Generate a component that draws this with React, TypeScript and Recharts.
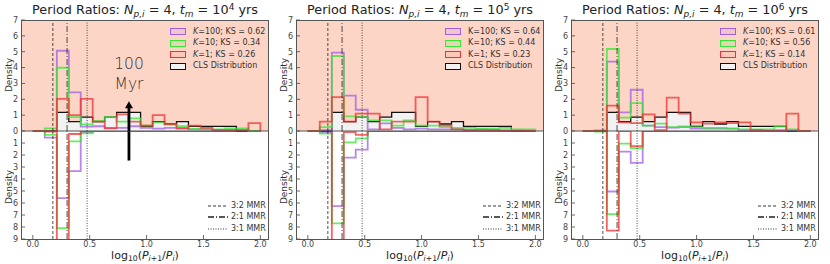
import React from 'react';
import {
  ComposedChart,
  Line,
  Area,
  XAxis,
  YAxis,
  CartesianGrid,
  ReferenceLine,
  ReferenceDot,
} from 'recharts';

// histogram bin edges in log10(P_{i+1}/P_i)
const binEdges = [
  0, 0.105, 0.211, 0.316, 0.421, 0.526, 0.632, 0.737, 0.842, 0.947, 1.053, 1.158, 1.263, 1.368,
  1.474, 1.579, 1.684, 1.789, 1.895, 2.0,
];

// observed CLS distribution (same in every panel)
const clsDensity = [0, 0, 1.18, 0.59, 0.88, 0.59, 0.88, 1.18, 1.18, 0.29, 0.59, 0.44, 0.59, 0.29, 0.29, 0.29, 0.29, 0, 0];

// t_m = 1e4 yrs
const p1K100Top = [0, 0, 5.06, 2.44, 0.27, 0.3, 0.2, 0.2, 0.3, 0.2, 0.15, 0.2, 0.2, 0.1, 0.1, 0.05, 0.05, 0.05, 0];
const p1K10Top = [0, 0.17, 3.99, 0.88, 0.42, 0.63, 0.88, 0.59, 0.8, 0.34, 0.55, 0.42, 0.3, 0.13, 0.1, 0.1, 0.17, 0.17, 0];
const p1K1Top = [0, 0, 2.02, 1.0, 2.02, 0.59, 0.17, 1.05, 0.59, 0.34, 1.0, 0.42, 0.15, 0.34, 0.2, 0.05, 0.05, 0.05, 0.5];
const p1K100Bottom = [0, 0.55, 5.6, 3.35, 0.1, 0, 0, 0, 0, 0, 0, 0, 0, 0, 0, 0, 0, 0, 0];
const p1K10Bottom = [0, 0.33, 8.1, 0.86, 0.2, 0, 0, 0, 0, 0, 0, 0, 0, 0, 0, 0, 0, 0, 0];
const p1K1Bottom = [0, 0.05, 9.6, 0.25, 0, 0, 0, 0, 0, 0, 0, 0, 0, 0, 0, 0, 0, 0, 0];

// t_m = 1e5 yrs
const p2K100Top = [0, 0.05, 4.94, 2.23, 1.34, 0.1, 0.48, 0.2, 0.1, 0.15, 0.1, 0.1, 0.1, 0.05, 0.1, 0.05, 0.05, 0.05, 0];
const p2K10Top = [0, 0.25, 4.73, 0.92, 0.88, 0.67, 0.67, 0.34, 0.67, 0.34, 0.34, 0.25, 0.2, 0.2, 0.15, 0.15, 0.2, 0.1, 0.1];
const p2K1Top = [0, 0.59, 2.14, 0.59, 1.09, 1.09, 0.1, 0.59, 0.59, 2.14, 0.59, 0.34, 0.1, 0.05, 0.05, 0.05, 0, 0, 0];
const p2K100Bottom = [0, 0.1, 6.26, 2.22, 1.55, 0, 0, 0, 0, 0, 0, 0, 0, 0, 0, 0, 0, 0, 0];
const p2K10Bottom = [0, 0.22, 7.7, 0.94, 0.61, 0, 0, 0, 0, 0, 0, 0, 0, 0, 0, 0, 0, 0, 0];
const p2K1Bottom = [0, 0, 9.6, 0.1, 0.33, 0, 0, 0, 0, 0, 0, 0, 0, 0, 0, 0, 0, 0, 0];

// t_m = 1e6 yrs
const p3K100Top = [0, 0, 4.37, 1.18, 2.6, 0.34, 0.25, 0.21, 0.25, 0.15, 0.15, 0.15, 0.15, 0.05, 0.05, 0.05, 0.05, 0.05, 0];
const p3K10Top = [0, 0.05, 5.17, 0.84, 1.76, 0.34, 0.46, 0.25, 0.29, 0.25, 0.2, 0.2, 0.15, 0.1, 0.1, 0.1, 0.29, 0.1, 0];
const p3K1Top = [0, 0, 1.6, 0.55, 0.5, 1.05, 0.05, 2.1, 1.09, 0.55, 0.46, 0.55, 0.5, 0.55, 0.05, 0, 0, 1.09, 0];
const p3K100Bottom = [0, 0, 5.04, 1.72, 2.66, 0, 0, 0, 0, 0, 0, 0, 0, 0, 0, 0, 0, 0, 0];
const p3K10Bottom = [0, 0.05, 6.93, 1.05, 1.44, 0, 0, 0, 0, 0, 0, 0, 0, 0, 0, 0, 0, 0, 0];
const p3K1Bottom = [0, 0, 8.3, 0, 1.27, 0, 0, 0, 0, 0, 0, 0, 0, 0, 0, 0, 0, 0, 0];

const timeExponents = ['4', '5', '6'];
const ksK100 = ['0.62', '0.64', '0.61'];
const ksK10 = ['0.34', '0.44', '0.56'];
const ksK1 = ['0.26', '0.23', '0.14'];
const mmrRatios = [0.176, 0.301, 0.477];
const mmrLabels = ['3:2 MMR', '2:1 MMR', '3:1 MMR'];
const upperTicks = [0, 1, 2, 3, 4, 5, 6, 7];
const lowerTicks = [1, 2, 3, 4, 5, 6, 7, 8, 9];
const xTicks = [0, 0.5, 1.0, 1.5, 2.0];

const FONT = '"DejaVu Sans", sans-serif';
const PURPLE = '#a05ee6';
const GREEN = '#33e833';
const RED = '#f23030';
const SALMON = '#fdd5c6';
const X_DOMAIN: [number, number] = [-0.104, 2.076];
const MMR_DASH = ['3 2', '6 2 1 2', '1 1.5'];
const PANEL_LEFT = [21, 296, 571];
const PLOT_W = 248;
const AXIS_W = 22;

const panels = [
  { top: [p1K100Top, p1K10Top, p1K1Top], bottom: [p1K100Bottom, p1K10Bottom, p1K1Bottom] },
  { top: [p2K100Top, p2K10Top, p2K1Top], bottom: [p2K100Bottom, p2K10Bottom, p2K1Bottom] },
  { top: [p3K100Top, p3K10Top, p3K1Top], bottom: [p3K100Bottom, p3K10Bottom, p3K1Bottom] },
];

function buildRows(k100: number[], k10: number[], k1: number[], cls?: number[]) {
  const rows: any[] = [{ x: binEdges[0], k100: 0, k10: 0, k1: 0, cls: 0 }];
  binEdges.forEach((edge, i) => {
    const last = i === binEdges.length - 1;
    rows.push({
      x: edge,
      k100: last ? 0 : k100[i],
      k10: last ? 0 : k10[i],
      k1: last ? 0 : k1[i],
      cls: cls ? (last ? 0 : cls[i]) : 0,
    });
  });
  return rows;
}

const YTick = (props: any) => {
  const { x, y, payload } = props;
  return (
    <g>
      <line x1={x + 3} x2={x + 7} y1={y} y2={y} stroke="#444" strokeWidth={0.8} />
      <text x={x} y={y} dy="0.35em" textAnchor="end" fontSize={8} fill="#444" fontFamily={FONT}>
        {payload.value}
      </text>
    </g>
  );
};

const XTick = (props: any) => {
  const { x, y, payload } = props;
  return (
    <g>
      <line x1={x} x2={x} y1={y - 2} y2={y - 6} stroke="#444" strokeWidth={0.8} />
      <text x={x} y={y} dy="0.75em" textAnchor="middle" fontSize={8} fill="#444" fontFamily={FONT}>
        {payload.value.toFixed(1)}
      </text>
    </g>
  );
};

const lineProps = { type: 'stepAfter' as const, strokeWidth: 1.8, strokeOpacity: 0.75, dot: false, isAnimationActive: false };

function MmrLines() {
  return (
    <>
      {mmrRatios.map((r, i) => (
        <ReferenceLine key={r} x={r} stroke="#222" strokeWidth={0.8} strokeDasharray={MMR_DASH[i]} />
      ))}
    </>
  );
}

function UpperChart({ index }: { index: number }) {
  const [a, b, c] = panels[index].top;
  const data = buildRows(a, b, c, clsDensity);
  return (
    <ComposedChart width={AXIS_W + PLOT_W} height={137} data={data} margin={{ top: 20, right: 0, bottom: 6, left: 0 }}>
      <CartesianGrid fill={SALMON} fillOpacity={1} horizontal={false} vertical={false} stroke="none" />
      <XAxis type="number" dataKey="x" domain={X_DOMAIN} allowDataOverflow hide />
      <YAxis
        type="number"
        domain={[0, 7]}
        ticks={upperTicks}
        interval={0}
        width={AXIS_W}
        tickSize={0}
        tickMargin={3}
        axisLine={false}
        tickLine={false}
        tick={YTick}
      />
      <Area type="stepAfter" dataKey="cls" stroke="#111" strokeWidth={1.3} fill="#f2f2f2" fillOpacity={1} dot={false} isAnimationActive={false} />
      <Line dataKey="k100" stroke={PURPLE} {...lineProps} />
      <Line dataKey="k10" stroke={GREEN} {...lineProps} />
      <Line dataKey="k1" stroke={RED} {...lineProps} />
      <ReferenceLine y={0} stroke="#555" strokeWidth={1} />
      {MmrLines()}
      {index === 0 && (
        <ReferenceLine segment={[{ x: 0.845, y: 0 }, { x: 0.845, y: 1.5 }]} stroke="#000" strokeWidth={2.8} />
      )}
      {index === 0 && (
        <ReferenceDot
          x={0.845}
          y={1.87}
          shape={(p: any) => (
            <path d={`M${p.cx},${p.cy} L${p.cx - 4},${p.cy + 7} L${p.cx + 4},${p.cy + 7} Z`} fill="#000" />
          )}
        />
      )}
    </ComposedChart>
  );
}

function LowerChart({ index }: { index: number }) {
  const [a, b, c] = panels[index].bottom;
  const data = buildRows(a, b, c);
  return (
    <ComposedChart width={AXIS_W + PLOT_W} height={133} data={data} margin={{ top: 0, right: 0, bottom: 0, left: 0 }}>
      <XAxis
        type="number"
        dataKey="x"
        domain={X_DOMAIN}
        allowDataOverflow
        ticks={xTicks}
        interval={0}
        height={25}
        tickSize={0}
        tickMargin={2}
        axisLine={false}
        tickLine={false}
        tick={XTick}
      />
      <YAxis
        type="number"
        reversed
        domain={[0, 9]}
        allowDataOverflow
        ticks={lowerTicks}
        interval={0}
        width={AXIS_W}
        tickSize={0}
        tickMargin={3}
        axisLine={false}
        tickLine={false}
        tick={YTick}
      />
      <Line dataKey="k100" stroke={PURPLE} {...lineProps} />
      <Line dataKey="k10" stroke={GREEN} {...lineProps} />
      <Line dataKey="k1" stroke={RED} {...lineProps} />
      {MmrLines()}
      {index === 0 && (
        <ReferenceLine segment={[{ x: 0.845, y: 0 }, { x: 0.845, y: 2.46 }]} stroke="#000" strokeWidth={2.8} />
      )}
    </ComposedChart>
  );
}

const abs = (s: React.CSSProperties): React.CSSProperties => ({ position: 'absolute', fontFamily: FONT, ...s });
const subStyle: React.CSSProperties = { fontSize: '0.7em', position: 'relative', top: '0.3em' };
const supStyle: React.CSSProperties = { fontSize: '0.7em', position: 'relative', top: '-0.45em' };

function Swatch({ color, fill }: { color: string; fill: string }) {
  return (
    <div style={{ width: 16, height: 7, border: `1.5px solid ${color}`, background: fill, boxSizing: 'border-box' }} />
  );
}

function Panel({ index }: { index: number }) {
  const L = PANEL_LEFT[index];
  const italicK = index !== 1;
  const K = italicK ? <i>K</i> : <span>K</span>;
  const legendRows = [
    { color: PURPLE, fill: 'rgba(160,94,230,0.12)', label: <>{K}=100; KS = {ksK100[index]}</> },
    { color: GREEN, fill: 'rgba(51,232,51,0.12)', label: <>{K}=10; KS = {ksK10[index]}</> },
    { color: RED, fill: 'rgba(242,48,48,0.08)', label: <>{K}=1; KS = {ksK1[index]}</> },
    { color: '#111', fill: '#f2f2f2', label: <>CLS Distribution</> },
  ];
  const legendY = [31.5, 43, 54.5, 66];
  const mmrY = [205.5, 217, 228.5];
  return (
    <>
      <div style={abs({ left: L - AXIS_W, top: 131 })}>
        <LowerChart index={index} />
      </div>
      <div style={abs({ left: L - AXIS_W, top: 0 })}>
        <UpperChart index={index} />
      </div>
      <div style={abs({ left: L, top: 20, width: PLOT_W, height: 220, border: '1px solid #555', boxSizing: 'border-box', pointerEvents: 'none' })} />
      <div style={abs({ left: L - 10, top: 2, width: PLOT_W + 20, textAlign: 'center', fontSize: 12.8, color: '#222', lineHeight: '16px', whiteSpace: 'nowrap' })}>
        Period Ratios: <i>N</i>
        <span style={subStyle}><i>p,i</i></span> = 4, <i>t</i>
        <span style={subStyle}><i>m</i></span> = 10<span style={supStyle}>{timeExponents[index]}</span> yrs
      </div>
      <div style={abs({ left: L - 42, top: 69, width: 60, textAlign: 'center', fontSize: 9, color: '#333', transform: 'rotate(-90deg)', lineHeight: '12px' })}>Density</div>
      <div style={abs({ left: L - 42, top: 181, width: 60, textAlign: 'center', fontSize: 9, color: '#333', transform: 'rotate(-90deg)', lineHeight: '12px' })}>Density</div>
      <div style={abs({ left: L, top: 249, width: PLOT_W, textAlign: 'center', fontSize: 11, color: '#222', lineHeight: '14px', whiteSpace: 'nowrap' })}>
        log<span style={subStyle}>10</span>(<i>P</i><span style={subStyle}><i>i</i>+1</span>/<i>P</i><span style={subStyle}><i>i</i></span>)
      </div>
      {legendRows.map((r, i) => (
        <React.Fragment key={i}>
          <div style={abs({ left: L + 149, top: legendY[i] - 3.5 })}>
            <Swatch color={r.color} fill={r.fill} />
          </div>
          <div style={abs({ left: L + 172, top: legendY[i] - 6, fontSize: 8, color: '#333', lineHeight: '12px', whiteSpace: 'nowrap' })}>{r.label}</div>
        </React.Fragment>
      ))}
      {mmrLabels.map((lab, i) => (
        <React.Fragment key={lab}>
          <svg style={abs({ left: L + 187, top: mmrY[i] - 2 })} width={20} height={4}>
            <line x1={0} x2={20} y1={2} y2={2} stroke="#222" strokeWidth={i === 1 ? 1.3 : 0.9} strokeDasharray={MMR_DASH[i]} />
          </svg>
          <div style={abs({ left: L + 210, top: mmrY[i] - 6, fontSize: 8, color: '#333', lineHeight: '12px', whiteSpace: 'nowrap' })}>{lab}</div>
        </React.Fragment>
      ))}
      {index === 0 && (
        <div style={abs({ left: L + 108 - 30, top: 54, width: 60, textAlign: 'center', fontSize: 15.5, color: '#333', lineHeight: '20px', fontWeight: 300 })}>
          100
          <br />
          Myr
        </div>
      )}
    </>
  );
}

export default function App() {
  return (
    <div style={{ position: 'absolute', left: 0, top: 0, width: 830, height: 264, background: '#fff', overflow: 'hidden' }}>
      {[0, 1, 2].map((i) => (
        <Panel key={i} index={i} />
      ))}
    </div>
  );
}
